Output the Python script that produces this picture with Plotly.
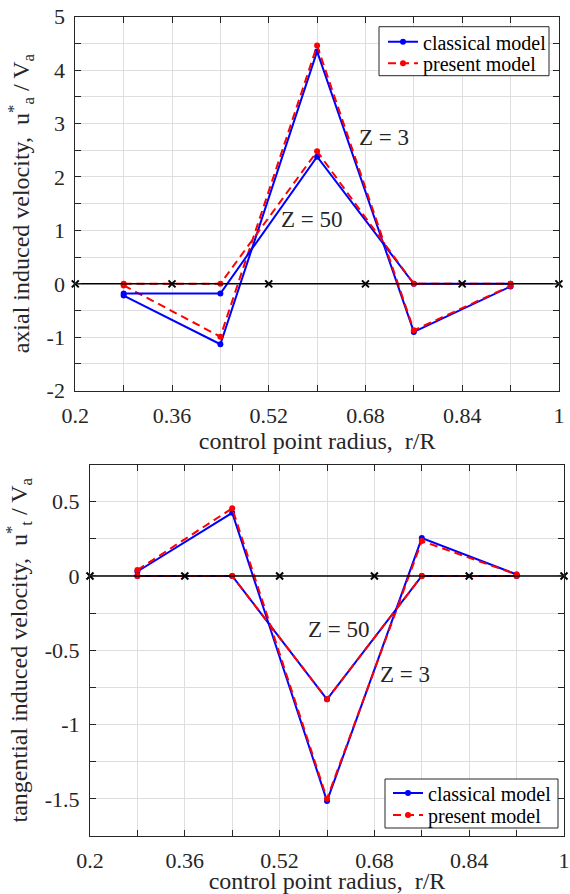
import plotly.graph_objects as go

# ---------------- data ----------------
x_ctrl = [0.28, 0.44, 0.60, 0.76, 0.92]          # control point radius r/R
x_vortex = [0.20, 0.36, 0.52, 0.68, 0.84, 1.00]  # vortex points (black x on zero line)
zero_line = [0, 0, 0, 0, 0, 0]

# axial induced velocity ua*/Va
ua_classical_Z3 = [-0.22, -1.13, 4.35, -0.90, -0.05]
ua_present_Z3 = [-0.03, -0.99, 4.46, -0.87, -0.04]
ua_classical_Z50 = [-0.18, -0.18, 2.38, 0.00, 0.00]
ua_present_Z50 = [0.00, 0.00, 2.48, 0.00, 0.00]

# tangential induced velocity ut*/Va
ut_classical_Z3 = [0.03, 0.425, -1.515, 0.255, 0.01]
ut_present_Z3 = [0.04, 0.455, -1.50, 0.235, 0.01]
ut_classical_Z50 = [0.00, 0.00, -0.83, 0.00, 0.00]
ut_present_Z50 = [0.00, 0.00, -0.83, 0.00, 0.00]

x_tickvals = [0.2, 0.36, 0.52, 0.68, 0.84, 1.0]
x_ticktext = ["0.2", "0.36", "0.52", "0.68", "0.84", "1"]
y1_tickvals = [-2, -1, 0, 1, 2, 3, 4, 5]
y1_ticktext = ["-2", "-1", "0", "1", "2", "3", "4", "5"]
y2_tickvals = [-1.5, -1, -0.5, 0, 0.5]
y2_ticktext = ["-1.5", "-1", "-0.5", "0", "0.5"]

# ---------------- style ----------------
FONT = "Liberation Serif"
AX = "#262626"
GRID = "#dedede"
BLUE = "#0000ff"
RED = "#ff0000"
W, H = 570, 894


def px_x(p):
    return p / W


def px_y(p):
    return 1 - p / H


fig = go.Figure()


def add_panel(xa, ya, leg_cl, leg_pr, cl3, pr3, cl50, pr50):
    first = True
    for cl, pr in ((cl3, pr3), (cl50, pr50)):
        fig.add_trace(go.Scatter(
            x=x_ctrl, y=cl, mode="lines+markers", name="classical model",
            line=dict(color=BLUE, width=2), marker=dict(color=BLUE, size=6),
            xaxis=xa, yaxis=ya, legend=leg_cl, showlegend=first))
        fig.add_trace(go.Scatter(
            x=x_ctrl, y=pr, mode="lines+markers", name="present model",
            line=dict(color=RED, width=2, dash="8px,5px"),
            marker=dict(color=RED, size=6),
            xaxis=xa, yaxis=ya, legend=leg_pr, showlegend=first))
        first = False
    fig.add_trace(go.Scatter(
        x=x_vortex, y=zero_line, mode="lines+markers",
        line=dict(color="black", width=1.5),
        marker=dict(symbol="x-thin", size=7, line=dict(color="black", width=2)),
        xaxis=xa, yaxis=ya, showlegend=False, cliponaxis=False))


add_panel("x", "y", "legend", "legend2", ua_classical_Z3, ua_present_Z3,
          ua_classical_Z50, ua_present_Z50)
add_panel("x2", "y2", "legend3", "legend4", ut_classical_Z3, ut_present_Z3,
          ut_classical_Z50, ut_present_Z50)

common = dict(
    showline=True, linecolor=AX, linewidth=1, mirror="allticks",
    ticks="inside", ticklen=6, tickcolor=AX, tickwidth=1,
    showgrid=True, gridcolor=GRID, gridwidth=1, zeroline=False,
    tickfont=dict(family=FONT, size=22, color=AX),
    ticklabelstandoff=5, automargin=False,
)

TITLE_FONT = dict(family=FONT, size=24, color=AX)
x_title = "control point radius,\u00a0 r/R"


def legend_row(x_left, y_mid):
    return dict(x=px_x(x_left), y=px_y(y_mid), xanchor="left", yanchor="middle",
                bgcolor="rgba(0,0,0,0)", borderwidth=0,
                font=dict(family=FONT, size=20, color="black"))


fig.update_layout(
    width=W, height=H,
    margin=dict(l=0, r=0, t=0, b=0),
    paper_bgcolor="white", plot_bgcolor="white",
    font=dict(family=FONT, color=AX),
    xaxis=dict(common, domain=[px_x(75.3), px_x(558.9)], range=[0.2, 1.0],
               anchor="y", tickmode="array", tickvals=x_tickvals, ticktext=x_ticktext,
               minor=dict(dtick=0.08, tick0=0.2, ticks="inside", ticklen=6,
                          tickcolor=AX, showgrid=True, gridcolor=GRID),
               title=dict(text=x_title, font=TITLE_FONT, standoff=1)),
    yaxis=dict(common, domain=[px_y(390.7), px_y(16.7)], range=[-2, 5],
               anchor="x", tickmode="array", tickvals=y1_tickvals, ticktext=y1_ticktext,
               minor=dict(dtick=0.5, tick0=0, ticks="inside", ticklen=6,
                          tickcolor=AX, showgrid=True, gridcolor=GRID),
               title=dict(text="axial induced velocity,\u00a0 u<sup>*</sup><sub>a</sub> / V<sub>a</sub>",
                          font=TITLE_FONT, standoff=10)),
    xaxis2=dict(common, domain=[px_x(90), px_x(564)], range=[0.2, 1.0],
                anchor="y2", tickmode="array", tickvals=x_tickvals, ticktext=x_ticktext,
                minor=dict(dtick=0.08, tick0=0.2, ticks="inside", ticklen=6,
                           tickcolor=AX, showgrid=True, gridcolor=GRID),
                title=dict(text=x_title, font=TITLE_FONT, standoff=4)),
    yaxis2=dict(common, domain=[px_y(836), px_y(464.5)], range=[-1.75, 0.75],
                anchor="x2", tickmode="array", tickvals=y2_tickvals, ticktext=y2_ticktext,
                minor=dict(dtick=0.25, tick0=0, ticks="inside", ticklen=6,
                           tickcolor=AX, showgrid=True, gridcolor=GRID),
                title=dict(text="tangential induced velocity,\u00a0 u<sup>*</sup><sub>t</sub> / V<sub>a</sub>",
                           font=TITLE_FONT, standoff=10)),
    legend=legend_row(383, 41.7),
    legend2=legend_row(383, 63.3),
    legend3=legend_row(388, 793),
    legend4=legend_row(388, 815),
    shapes=[
        dict(type="rect", xref="paper", yref="paper",
             x0=px_x(379), x1=px_x(549), y0=px_y(75.7), y1=px_y(26.7),
             line=dict(color=AX, width=1), fillcolor="white", layer="above"),
        dict(type="rect", xref="paper", yref="paper",
             x0=px_x(385), x1=px_x(558), y0=px_y(828), y1=px_y(779),
             line=dict(color=AX, width=1), fillcolor="white", layer="above"),
    ],
    annotations=[
        dict(x=0.71, y=2.73, xref="x", yref="y", text="Z = 3", showarrow=False,
             font=dict(family=FONT, size=23, color=AX)),
        dict(x=0.592, y=1.2, xref="x", yref="y", text="Z = 50", showarrow=False,
             font=dict(family=FONT, size=23, color=AX)),
        dict(x=0.62, y=-0.363, xref="x2", yref="y2", text="Z = 50", showarrow=False,
             font=dict(family=FONT, size=23, color=AX)),
        dict(x=0.732, y=-0.666, xref="x2", yref="y2", text="Z = 3", showarrow=False,
             font=dict(family=FONT, size=23, color=AX)),
    ],
)

fig.write_html("out.html", config={"displayModeBar": False},
               post_script="document.body.style.margin='0px';")
